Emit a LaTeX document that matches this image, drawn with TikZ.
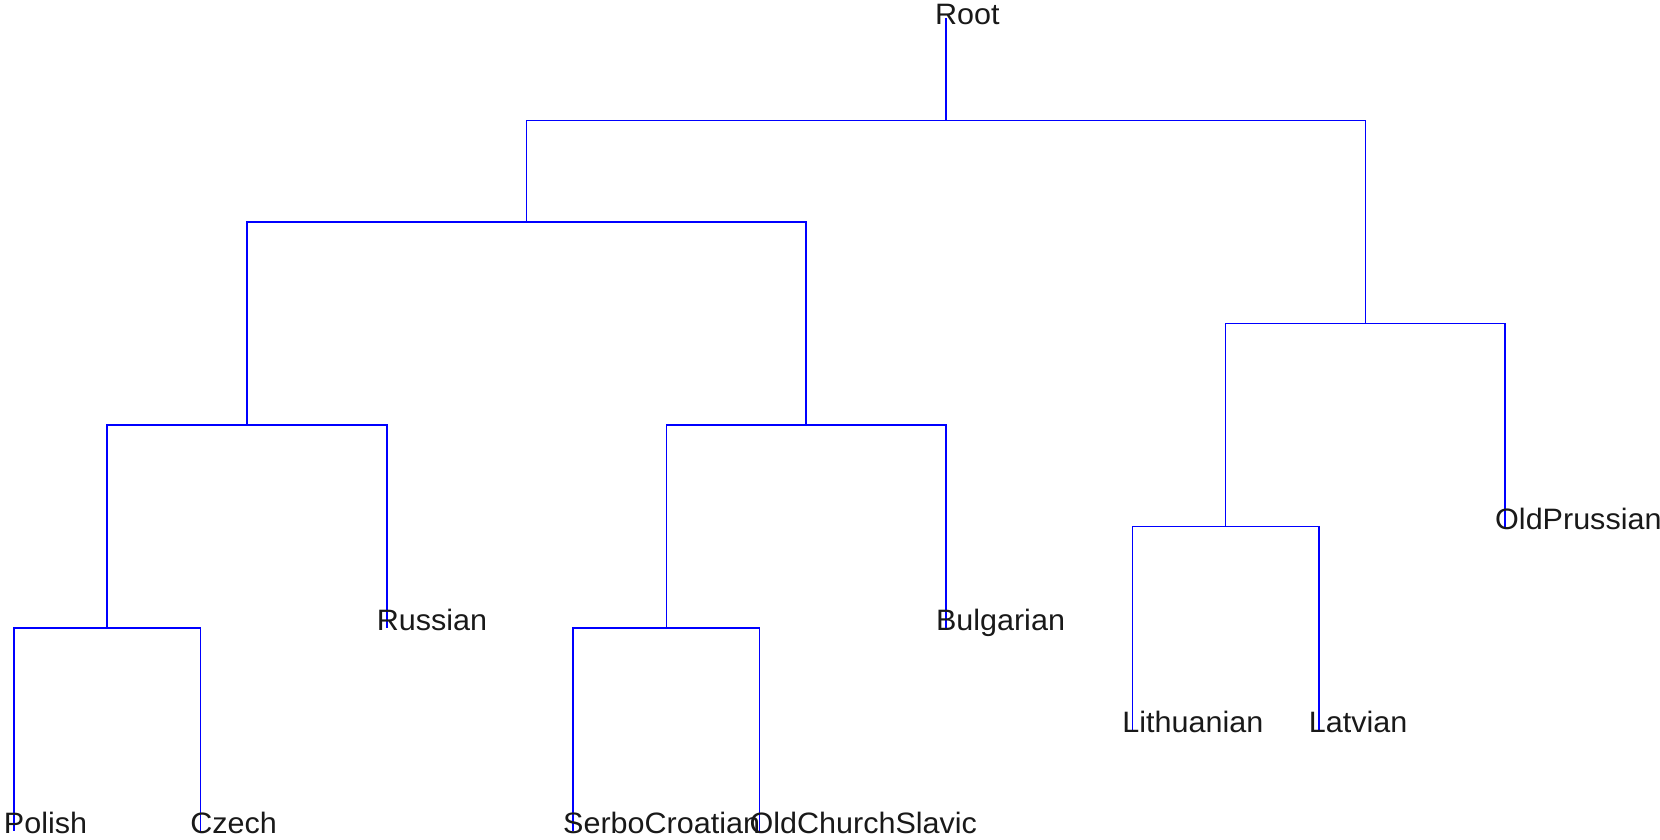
\documentclass[tikz,border=0pt]{standalone}
\usepackage{fontspec}
\setmainfont{Liberation Sans}[FakeStretch=1.035]
\begin{document}
\begin{tikzpicture}[x=1pt,y=-1pt,
  branch/.style={draw=blue,line width=1.6pt,line join=miter},
  leaf/.style={anchor=base west,inner sep=0pt,outer sep=0pt,text=black!90,
    font=\fontsize{29.5}{35}\selectfont}]
\useasboundingbox (0,0) rectangle (1660,840);

% tree nodes (vertical position = depth)
\coordinate (rtop) at (946,18.5);
\coordinate (root) at (946,120.5);
\coordinate (slavic) at (526.6,222);
\coordinate (baltic) at (1365.4,323.5);
\coordinate (west) at (247,425);
\coordinate (south) at (806.2,425);
\coordinate (pc) at (107.2,628);
\coordinate (russian) at (386.8,628);
\coordinate (so) at (666.4,628);
\coordinate (bulgarian) at (946,628);
\coordinate (polish) at (14,831);
\coordinate (czech) at (200.4,831);
\coordinate (serbo) at (573.2,831);
\coordinate (ocs) at (759.6,831);
\coordinate (lithlat) at (1225.6,526.5);
\coordinate (oldprussian) at (1505.2,526.5);
\coordinate (lithuanian) at (1132.4,729.5);
\coordinate (latvian) at (1318.8,729.5);

% branches
\draw[branch] (rtop) -- (root);
\draw[branch] (root) -| (slavic);
\draw[branch] (root) -| (baltic);
\draw[branch] (slavic) -| (west);
\draw[branch] (slavic) -| (south);
\draw[branch] (west) -| (pc);
\draw[branch] (west) -| (russian);
\draw[branch] (south) -| (so);
\draw[branch] (south) -| (bulgarian);
\draw[branch] (pc) -| (polish);
\draw[branch] (pc) -| (czech);
\draw[branch] (so) -| (serbo);
\draw[branch] (so) -| (ocs);
\draw[branch] (baltic) -| (lithlat);
\draw[branch] (baltic) -| (oldprussian);
\draw[branch] (lithlat) -| (lithuanian);
\draw[branch] (lithlat) -| (latvian);

% labels
\node[leaf] (rootlbl) at ([shift={(-11,6.5)}]rtop) {Root};
\node[leaf] (polishlbl) at ([shift={(-10,2.5)}]polish) {Polish};
\node[leaf] (czechlbl) at ([shift={(-10,2.5)}]czech) {Czech};
\node[leaf] (russianlbl) at ([shift={(-10,2.5)}]russian) {Russian};
\node[leaf] (serbolbl) at ([shift={(-10,2.5)}]serbo) {SerboCroatian};
\node[leaf] (ocslbl) at ([shift={(-10,2.5)}]ocs) {OldChurchSlavic};
\node[leaf] (bulgarianlbl) at ([shift={(-10,2.5)}]bulgarian) {Bulgarian};
\node[leaf] (lithuanianlbl) at ([shift={(-10,2.5)}]lithuanian) {Lithuanian};
\node[leaf] (latvianlbl) at ([shift={(-10,2.5)}]latvian) {Latvian};
\node[leaf] (oldprussianlbl) at ([shift={(-10,2.5)}]oldprussian) {OldPrussian};
\end{tikzpicture}
\end{document}
